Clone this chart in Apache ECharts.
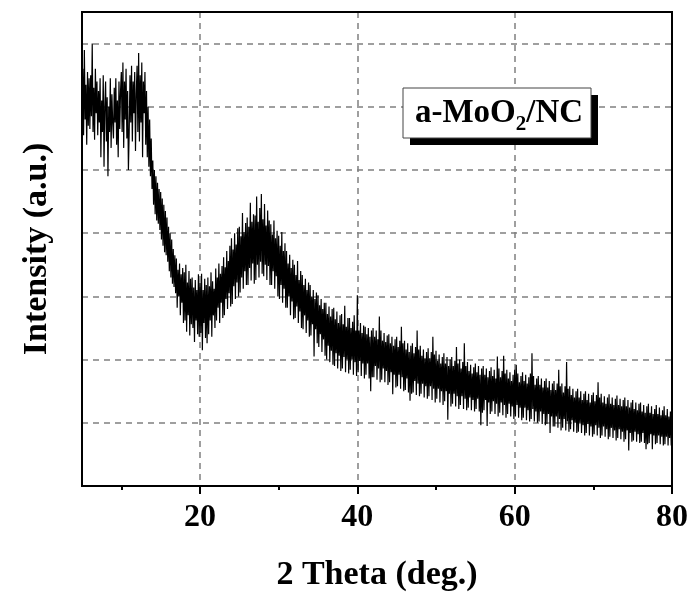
<!DOCTYPE html>
<html>
<head>
<meta charset="utf-8">
<script src="https://cdn.jsdelivr.net/npm/echarts@6/dist/echarts.min.js"></script>
<style>
html,body{margin:0;padding:0;background:#fff;}
#chart{width:693px;height:592px;}
</style>
</head>
<body>
<div id="chart"></div>
<script>
// 2-theta start and step of the scan (deg)
const thetaStart = 5;
const thetaStep = 0.1;
// Intensity (a.u.), one row per degree: x.0 ... x.9
const intensity = [
  600,660,555,690,580,635,540,655,570,645,
  565,650,585,700,560,630,548,660,590,640,
  555,625,575,645,520,610,560,650,505,600,
  640,545,615,490,600,560,645,535,620,575,
  550,630,575,645,540,610,520,640,565,625,
  655,560,670,535,640,580,660,550,625,500,
  560,650,575,665,545,640,590,655,530,620,
  665,560,685,545,650,575,670,520,640,590,
  655,540,625,520,600,505,580,490,550,470,
  515,445,500,430,490,420,480,415,470,405,
  465,390,455,380,445,370,435,365,425,355,
  410,340,400,330,390,320,375,315,365,305,
  360,282,342,300,352,270,335,290,345,258,
  338,262,350,244,322,270,340,238,328,256,
  330,250,314,228,326,262,310,240,335,236,
  322,242,336,215,310,258,328,234,318,226,
  330,240,316,262,338,236,324,270,312,250,
  344,262,330,282,352,258,336,290,348,266,
  362,270,346,296,372,280,356,305,380,284,
  392,288,374,316,400,296,382,322,408,300,
  410,306,395,330,432,312,402,340,416,318,
  425,318,410,345,448,325,418,352,430,320,
  428,326,458,350,418,330,440,355,462,336,
  422,332,446,350,412,326,436,348,420,318,
  414,318,398,340,420,312,392,332,404,300,
  396,296,380,318,402,290,372,312,384,282,
  372,282,352,300,366,270,345,292,358,264,
  350,266,334,284,356,258,326,276,340,250,
  334,248,318,270,328,242,310,262,322,236,
  318,238,300,256,310,205,296,248,306,226,
  302,220,286,240,296,212,280,232,290,206,
  290,200,272,222,284,196,268,214,280,192,
  282,190,264,210,276,186,258,206,270,182,
  272,186,256,204,285,180,252,200,266,178,
  266,184,250,200,260,176,270,196,246,174,
  302,180,246,198,258,174,242,194,254,170,
  252,176,240,194,250,170,236,150,246,172,
  250,172,236,190,246,168,232,186,268,164,
  246,168,230,186,242,164,228,182,238,160,
  240,164,226,180,236,145,222,176,232,156,
  236,158,220,176,230,154,252,172,226,150,
  230,152,216,170,226,148,212,135,222,146,
  226,148,210,166,220,144,246,162,216,142,
  222,146,206,162,216,140,202,158,212,138,
  218,142,202,158,212,136,236,154,208,132,
  214,138,198,154,208,132,194,150,204,128,
  210,134,194,150,204,105,190,146,200,126,
  204,130,190,146,198,126,220,142,194,122,
  200,128,186,142,196,122,226,138,190,120,
  196,124,182,140,192,120,178,136,188,118,
  194,122,180,138,190,118,176,96,186,116,
  190,120,176,136,186,95,172,132,182,114,
  188,118,174,134,184,114,170,130,205,110,
  186,116,172,132,182,112,206,128,178,108,
  184,114,170,130,180,110,166,126,176,106,
  184,110,192,128,178,108,164,124,174,104,
  180,108,166,124,176,104,162,120,172,102,
  178,106,210,122,174,102,160,118,170,100,
  174,102,160,118,170,98,156,114,166,96,
  170,98,156,114,166,84,152,110,162,94,
  166,94,152,110,162,92,184,106,158,88,
  162,92,148,106,158,88,196,102,154,86,
  158,90,144,104,154,86,140,100,150,84,
  154,86,140,100,150,84,136,96,146,80,
  150,84,136,98,146,80,132,94,144,78,
  148,82,134,96,144,80,164,92,140,76,
  146,80,132,94,142,78,130,90,140,74,
  145,78,130,92,140,76,128,88,138,72,
  143,76,128,90,138,74,126,86,136,70,
  140,74,126,88,136,56,124,84,132,70,
  136,72,122,86,132,70,120,82,130,68,
  132,70,118,84,128,68,116,58,126,66,
  130,68,116,82,126,58,114,80,122,66,
  128,68,114,80,124,66,112,78,120,64,
  126,66,112,78,122,64,110,76,118,64,
  117
];
const majorTicks = [20, 40, 60, 80];
const minorTicks = [10, 30, 50, 70];
const xTitle = '2 Theta (deg.)';
const yTitle = 'Intensity (a.u.)';
const sampleName = ['a-MoO', '2', '/NC'];

const seriesData = intensity.map((v, i) => [+(thetaStart + i * thetaStep).toFixed(2), v]);

const FONT = '"Liberation Serif", "Times New Roman", serif';
const chart = echarts.init(document.getElementById('chart'), null, {renderer: 'canvas'});
chart.setOption({
  backgroundColor: '#ffffff',
  animation: false,
  grid: {left: 82, right: 21, top: 12, bottom: 106, containLabel: false, outerBoundsMode: 'none'},
  xAxis: [{
    type: 'value', min: 5, max: 80, position: 'bottom',
    axisLine: {show: true, onZero: false, lineStyle: {color: '#000', width: 2}},
    axisTick: {show: true, customValues: majorTicks, length: 8, inside: false, lineStyle: {color: '#000', width: 2}},
    axisLabel: {show: true, customValues: majorTicks, margin: 16, color: '#000', fontFamily: FONT, fontWeight: 'bold', fontSize: 32},
    splitLine: {show: true, lineStyle: {color: '#808080', width: 1.5, type: [6, 5]}},
    name: xTitle, nameLocation: 'middle', nameGap: 72,
    nameTextStyle: {color: '#000', fontFamily: FONT, fontWeight: 'bold', fontSize: 34}
  }, {
    type: 'value', min: 5, max: 80, position: 'bottom',
    axisLine: {show: false, onZero: false},
    axisTick: {show: true, customValues: minorTicks, length: 4, lineStyle: {color: '#000', width: 2}},
    axisLabel: {show: false},
    splitLine: {show: false}
  }],
  yAxis: {
    type: 'value', min: 0, max: 750, interval: 100,
    axisLine: {show: true, onZero: false, lineStyle: {color: '#000', width: 2}},
    axisTick: {show: false},
    axisLabel: {show: false},
    splitLine: {show: true, lineStyle: {color: '#808080', width: 1.5, type: [6, 5]}},
    name: yTitle, nameLocation: 'middle', nameGap: 28,
    nameTextStyle: {color: '#000', fontFamily: FONT, fontWeight: 'bold', fontSize: 34}
  },
  series: [{
    type: 'line', xAxisIndex: 0, data: seriesData, showSymbol: false, symbol: 'none',
    lineStyle: {color: '#000', width: 1.2}, silent: true
  }],
  graphic: [
    {type: 'rect', shape: {x: 82, y: 12, width: 590, height: 474}, style: {fill: 'none', stroke: '#000', lineWidth: 2}, z: 100, silent: true},
    {type: 'rect', shape: {x: 410, y: 95, width: 188, height: 50}, style: {fill: '#000'}, z: 10},
    {type: 'rect', shape: {x: 403, y: 88, width: 188, height: 50}, style: {fill: '#fff', stroke: '#444', lineWidth: 1}, z: 11},
    {type: 'text', x: 499, y: 113, z: 12, style: {
      text: '{m|' + sampleName[0] + '}{s|' + sampleName[1] + '}{m|' + sampleName[2] + '}',
      align: 'center', verticalAlign: 'middle',
      rich: {
        m: {fontFamily: FONT, fontWeight: 'bold', fontSize: 33, lineHeight: 44, fill: '#000', verticalAlign: 'middle'},
        s: {fontFamily: FONT, fontWeight: 'bold', fontSize: 21, lineHeight: 21, fill: '#000', verticalAlign: 'bottom'}
      }
    }}
  ]
});
</script>
</body>
</html>
